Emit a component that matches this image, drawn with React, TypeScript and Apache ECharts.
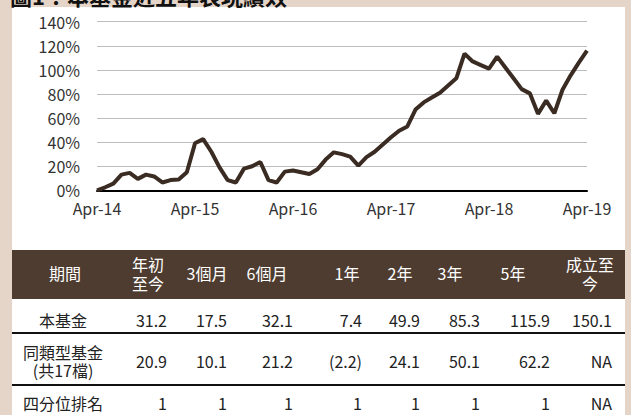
import React, { useEffect, useRef } from "react";
import * as echarts from "echarts";

// ---- Data ----
const monthNames = ["Jan", "Feb", "Mar", "Apr", "May", "Jun", "Jul", "Aug", "Sep", "Oct", "Nov", "Dec"];
// Monthly category labels Apr-14 ... Apr-19 (61 months)
const monthLabels: string[] = [];
for (let i = 0; i < 61; i++) {
  const m = (3 + i) % 12;
  const y = 14 + Math.floor((3 + i) / 12);
  monthLabels.push(`${monthNames[m]}-${y}`);
}

// Cumulative return of the fund (%)
const fundCumulative = [
  0, 2.5, 5.5, 13, 14.5, 9.5, 13, 11.5, 6.5, 8.5, 9, 15,
  39, 42.5, 32, 19, 8.5, 6.5, 18, 20, 23.5, 8.5, 6.5, 15.5,
  16.5, 15, 13.5, 17.5, 25.5, 31.5, 30, 28, 20.5, 27.5, 32, 38,
  44, 49.5, 53, 67, 73, 77, 81, 87, 93, 113.5, 107, 104,
  101, 111, 102, 93, 84, 80.5, 63.5, 74.5, 64, 83.5, 95.5, 106,
  116,
];

const yTicksMax = 140;
const yTickStep = 20;

// Table
const headerLabels = ["期間", "年初\n至今", "3個月", "6個月", "1年", "2年", "3年", "5年", "成立至\n今"];
const rowLabels = ["本基金", "同類型基金\n(共17檔)", "四分位排名"];
const fundReturns: (number | null)[] = [31.2, 17.5, 32.1, 7.4, 49.9, 85.3, 115.9, 150.1];
const peerReturns: (number | null)[] = [20.9, 10.1, 21.2, -2.2, 24.1, 50.1, 62.2, null];
const quartileRanks: (number | null)[] = [1, 1, 1, 1, 1, 1, 1, null];

const FONT = '"Noto Sans CJK TC", "Noto Sans", sans-serif';
const BEIGE = "#e5d5c8";
const BROWN = "#4e3c30";
const LINE = "#3a2c23";

function fmtPct(v: number | null) {
  if (v === null) return "NA";
  if (v < 0) return `(${Math.abs(v).toFixed(1)})`;
  return v.toFixed(1);
}
function fmtRank(v: number | null) {
  return v === null ? "NA" : String(v);
}

export default function App() {
  const ref = useRef<HTMLDivElement>(null);
  useEffect(() => {
    if (!ref.current) return;
    const chart = echarts.init(ref.current, undefined, { renderer: "svg" });

    const headerCenters = [65, 148, 207, 267, 347, 400, 450, 513, 590];
    const valueRights = [167, 227, 293, 362, 420, 480, 550, 612];
    const rowY = [320, 361, 403];
    const rows = [fundReturns.map(fmtPct), peerReturns.map(fmtPct), quartileRanks.map(fmtRank)];

    const graphics: any[] = [
      { type: "rect", shape: { x: 0, y: 0, width: 12, height: 415 }, style: { fill: BEIGE }, silent: true },
      { type: "rect", shape: { x: 625, y: 0, width: 6, height: 415 }, style: { fill: BEIGE }, silent: true },
      { type: "rect", shape: { x: 0, y: 0, width: 631, height: 7 }, style: { fill: BEIGE }, silent: true },
      {
        type: "text",
        x: 10,
        y: 6,
        style: { text: "圖1：本基金近五年表現績效", font: `bold 22px ${FONT}`, fill: "#111", align: "left", verticalAlign: "bottom" },
        silent: true,
      },
      { type: "rect", shape: { x: 12, y: 250, width: 613, height: 49 }, style: { fill: BROWN }, silent: true },
      { type: "rect", shape: { x: 12, y: 332, width: 613, height: 2 }, style: { fill: "#111" }, silent: true },
      { type: "rect", shape: { x: 12, y: 384, width: 613, height: 2 }, style: { fill: "#111" }, silent: true },
    ];

    const pushLines = (text: string, x: number, yc: number, lh: number, fill: string, align: string) => {
      const lines = text.split("\n");
      const y0 = yc - ((lines.length - 1) * lh) / 2;
      lines.forEach((ln, k) => {
        graphics.push({
          type: "text",
          x,
          y: y0 + k * lh,
          style: { text: ln, font: `16px ${FONT}`, fill, align, verticalAlign: "middle", lineHeight: lh - 2 },
          silent: true,
        });
      });
    };

    headerLabels.forEach((h, i) => pushLines(h, headerCenters[i], 273, 19, "#ffffff", "center"));

    rowLabels.forEach((r, i) => {
      pushLines(r, 63, rowY[i], 18, "#222", "center");
      rows[i].forEach((v, j) => pushLines(v, valueRights[j], rowY[i], 18, "#222", "right"));
    });

    chart.setOption({
      animation: false,
      backgroundColor: "#ffffff",
      textStyle: { fontFamily: FONT },
      grid: { left: 97, right: 44, top: 21.7, bottom: 224.7, containLabel: false },
      xAxis: {
        type: "category",
        data: monthLabels,
        boundaryGap: false,
        axisLine: { lineStyle: { color: "#000", width: 2 } },
        axisTick: { show: false },
        axisLabel: { interval: 11, color: "#333", fontSize: 16, margin: 10, fontFamily: FONT },
        splitLine: { show: false },
      },
      yAxis: {
        type: "value",
        min: 0,
        max: yTicksMax,
        interval: yTickStep,
        axisLine: { show: false },
        axisTick: { show: false },
        axisLabel: { formatter: "{value}%", color: "#333", fontSize: 16, margin: 17, fontFamily: FONT },
        splitLine: { lineStyle: { color: "#bdbdbd", width: 1 } },
      },
      series: [
        {
          type: "line",
          data: fundCumulative,
          symbol: "none",
          showSymbol: false,
          lineStyle: { color: LINE, width: 4 },
          z: 3,
        },
      ],
      graphic: graphics,
    });
    return () => chart.dispose();
  }, []);

  return <div ref={ref} style={{ position: "fixed", left: 0, top: 0, width: 631, height: 415 }} />;
}
